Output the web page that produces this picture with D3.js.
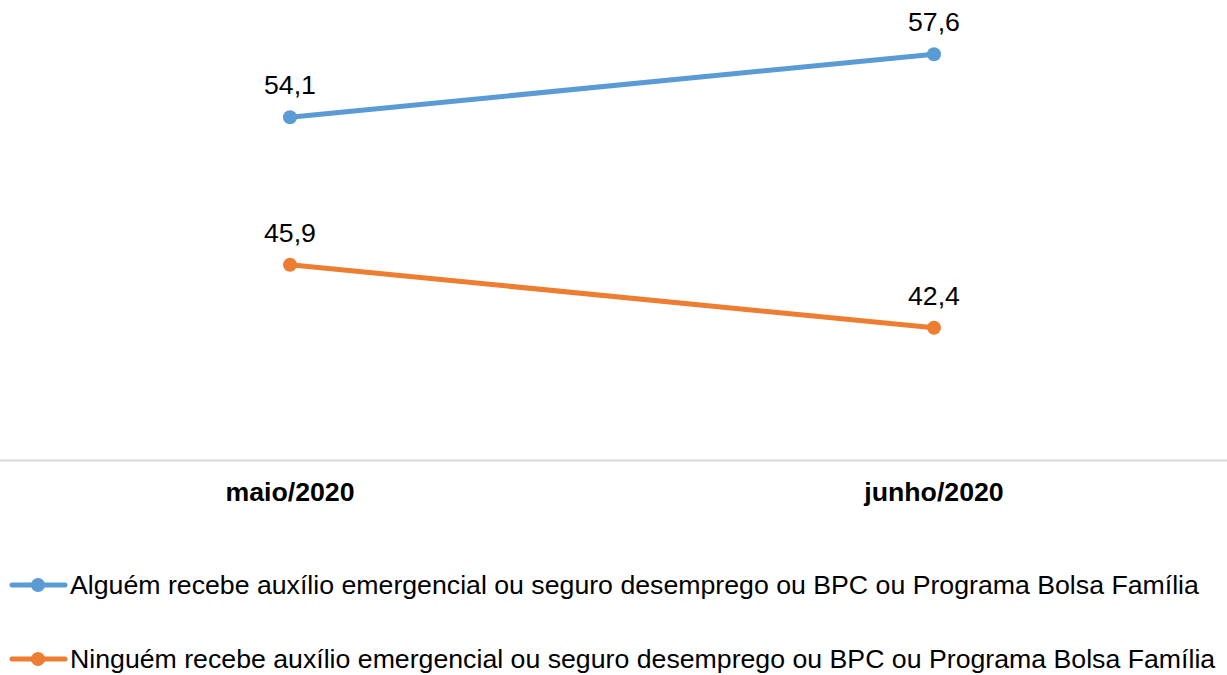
<!DOCTYPE html>
<html lang="pt">
<head>
<meta charset="UTF-8">
<title>Auxílio emergencial</title>
<style>
  body { margin: 0; background: #fff; font-family: "Liberation Sans", Arial, sans-serif; }
  svg { display: block; }
</style>
</head>
<body>
<svg width="1227" height="675"></svg>
<script src="https://d3js.org/d3.v7.min.js"></script>
<script>
// Data

const categories = ["maio/2020", "junho/2020"];
const seriesNames = [
  "Alguém recebe auxílio emergencial ou seguro desemprego ou BPC ou Programa Bolsa Família",
  "Ninguém recebe auxílio emergencial ou seguro desemprego ou BPC ou Programa Bolsa Família"
];
const alguemValues = [54.1, 57.6];
const ninguemValues = [45.9, 42.4];

const COLORS = ["#5B9BD5", "#ED7D31"];

// Layout

const width = 1227;
const height = 675;
const FONT = 26.7;

const svg = d3.select("svg");

const x = d3.scalePoint()
  .domain(categories)
  .range([290, 934]);

const y = d3.scaleLinear()
  .domain([35, 60])
  .range([461, 11]);

const fmt = v => d3.format(".1f")(v).replace(".", ",");

// Axis line

svg.append("line")
  .attr("x1", 0)
  .attr("x2", width)
  .attr("y1", 460.5)
  .attr("y2", 460.5)
  .attr("stroke", "#D9D9D9")
  .attr("stroke-width", 2);

// Category labels

svg.append("g")
  .selectAll("text")
  .data(categories)
  .join("text")
    .attr("x", d => x(d))
    .attr("y", 501)
    .attr("text-anchor", "middle")
    .attr("font-size", FONT)
    .attr("font-weight", "bold")
    .attr("fill", "#000")
    .text(d => d);

// Series

const series = [alguemValues, ninguemValues].map((values, i) => ({
  name: seriesNames[i],
  color: COLORS[i],
  points: values.map((v, j) => ({ cat: categories[j], value: v }))
}));

const line = d3.line()
  .x(d => x(d.cat))
  .y(d => y(d.value));

const g = svg.append("g")
  .selectAll("g")
  .data(series)
  .join("g");

g.append("path")
  .attr("d", d => line(d.points))
  .attr("fill", "none")
  .attr("stroke", d => d.color)
  .attr("stroke-width", 5)
  .attr("stroke-linecap", "round");

g.selectAll("circle")
  .data(d => d.points.map(p => ({ ...p, color: d.color })))
  .join("circle")
    .attr("cx", d => x(d.cat))
    .attr("cy", d => y(d.value))
    .attr("r", 7)
    .attr("fill", d => d.color);

g.selectAll("text")
  .data(d => d.points)
  .join("text")
    .attr("x", d => x(d.cat))
    .attr("y", d => y(d.value) - 23)
    .attr("text-anchor", "middle")
    .attr("font-size", FONT)
    .attr("fill", "#000")
    .text(d => fmt(d.value));

// Legend

const legend = svg.append("g")
  .selectAll("g")
  .data(series)
  .join("g")
    .attr("transform", (d, i) => `translate(0, ${585 + i * 74})`);

legend.append("line")
  .attr("x1", 12)
  .attr("x2", 65)
  .attr("stroke", d => d.color)
  .attr("stroke-width", 5)
  .attr("stroke-linecap", "round");

legend.append("circle")
  .attr("cx", 38)
  .attr("r", 7)
  .attr("fill", d => d.color);

legend.append("text")
  .attr("x", 70)
  .attr("y", 9)
  .attr("font-size", FONT)
  .attr("fill", "#000")
  .text(d => d.name);
</script>
</body>
</html>
